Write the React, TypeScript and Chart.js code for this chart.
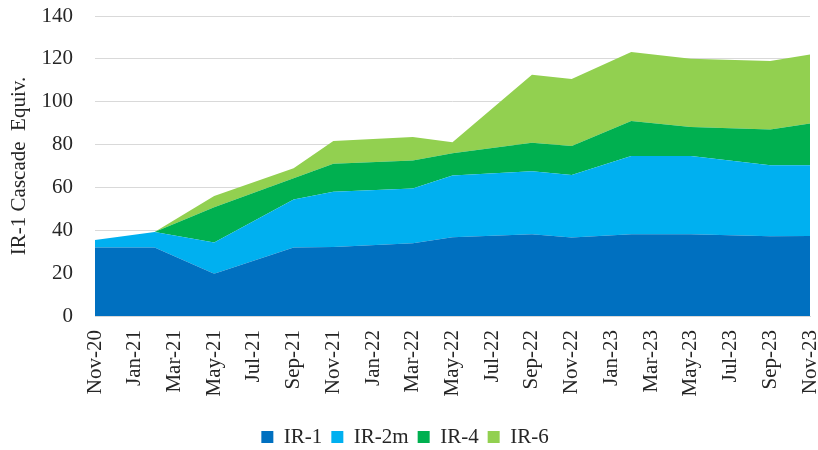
import React, { useEffect, useRef } from "react";
import { Chart, registerables } from "chart.js";

Chart.register(...registerables);

// Axis tick labels (every second month)
const tickLabels = [
  "Nov-20", "Jan-21", "Mar-21", "May-21", "Jul-21", "Sep-21", "Nov-21",
  "Jan-22", "Mar-22", "May-22", "Jul-22", "Sep-22", "Nov-22",
  "Jan-23", "Mar-23", "May-23", "Jul-23", "Sep-23", "Nov-23",
];

// Report dates at which values are recorded
const reportDates = [
  "Nov-20", "Feb-21", "May-21", "Sep-21", "Nov-21", "Mar-22", "May-22",
  "Sep-22", "Nov-22", "Feb-23", "May-23", "Sep-23", "Nov-23",
];

// IR-1 cascade equivalents per centrifuge type
const ir1 = [32, 32, 19.7, 32, 32.2, 34, 36.8, 38.1, 36.6, 38.1, 38.1, 37.2, 37.3];
const ir2m = [3.5, 7.2, 14.6, 22.4, 25.8, 25.5, 28.8, 29.5, 29.2, 36.6, 36.6, 33.1, 33];
const ir4 = [0, 0, 16.4, 9.9, 13, 13.1, 10.4, 13.2, 13.5, 16.3, 13.5, 16.7, 19.5];
const ir6 = [0, 0, 5.3, 4.7, 10.7, 10.9, 5.1, 31.8, 31.3, 32.2, 31.8, 32, 32.2];

const seriesNames = ["IR-1", "IR-2m", "IR-4", "IR-6"];
const seriesColors = ["#0070C0", "#00B0F0", "#00B050", "#92D050"];

const yTitle = "IR-1 Cascade  Equiv.";
const yMin = 0;
const yMax = 140;
const yStep = 20;

const MONTHS = ["Jan", "Feb", "Mar", "Apr", "May", "Jun", "Jul", "Aug", "Sep", "Oct", "Nov", "Dec"];
// Position of a "Mon-YY" label in months since Nov-20
function monthPos(label: string): number {
  const [m, y] = label.split("-");
  return (Number(y) - 20) * 12 + MONTHS.indexOf(m) - 10;
}

const FONT = "'Liberation Serif', 'Times New Roman', serif";
const TEXT = "#262626";

export default function App() {
  const ref = useRef<HTMLCanvasElement | null>(null);

  useEffect(() => {
    if (!ref.current) return;
    const allSeries = [ir1, ir2m, ir4, ir6];
    const xs = reportDates.map(monthPos);
    const tickMap = new Map<number, string>();
    tickLabels.forEach((l) => tickMap.set(monthPos(l), l));

    const clearPad = (s: any) => {
      s.paddingTop = 0;
      s.paddingBottom = 0;
      s.paddingLeft = 0;
      s.paddingRight = 0;
    };

    const chart = new Chart(ref.current, {
      type: "line",
      data: {
        datasets: allSeries.map((vals, i) => ({
          label: seriesNames[i],
          data: vals.map((v, j) => ({ x: xs[j], y: v })),
          backgroundColor: seriesColors[i],
          borderColor: seriesColors[i],
          borderWidth: 0,
          pointRadius: 0,
          pointHoverRadius: 0,
          tension: 0,
          fill: i === 0 ? "origin" : "-1",
        })),
      },
      options: {
        responsive: false,
        animation: false,
        layout: { padding: { top: 16, right: 8, left: 0, bottom: -7.5 } },
        plugins: {
          tooltip: { enabled: false },
          legend: {
            position: "bottom",
            labels: {
              boxWidth: 12,
              boxHeight: 12,
              padding: 9,
              color: TEXT,
              font: { family: FONT, size: 21 },
            },
          },
        },
        scales: {
          x: {
            type: "linear",
            min: monthPos(tickLabels[0]),
            max: monthPos(tickLabels[tickLabels.length - 1]),
            grid: { display: false, drawTicks: false },
            border: { display: true, color: "#D9D9D9", width: 1 },
            ticks: {
              stepSize: 2,
              autoSkip: false,
              minRotation: 90,
              maxRotation: 90,
              padding: 14,
              color: TEXT,
              font: { family: FONT, size: 21 },
              callback: (v: any) => tickMap.get(Number(v)) ?? "",
            },
            afterFit: (s: any) => {
              s.height = 101.5;
              clearPad(s);
            },
          },
          y: {
            stacked: true,
            min: yMin,
            max: yMax,
            grid: { color: "#D9D9D9", lineWidth: 1, drawTicks: false },
            border: { display: false },
            ticks: {
              stepSize: yStep,
              padding: 22,
              color: TEXT,
              font: { family: FONT, size: 21 },
            },
            title: {
              display: true,
              text: yTitle,
              color: TEXT,
              font: { family: FONT, size: 21 },
              padding: { top: 7, bottom: 0 },
            },
            afterFit: (s: any) => {
              s.width = 95;
              clearPad(s);
            },
          },
        },
      },
    });
    return () => chart.destroy();
  }, []);

  return (
    <div style={{ position: "absolute", left: 0, top: 0, width: 818, height: 450, background: "#fff" }}>
      <canvas ref={ref} width={818} height={450} />
    </div>
  );
}
